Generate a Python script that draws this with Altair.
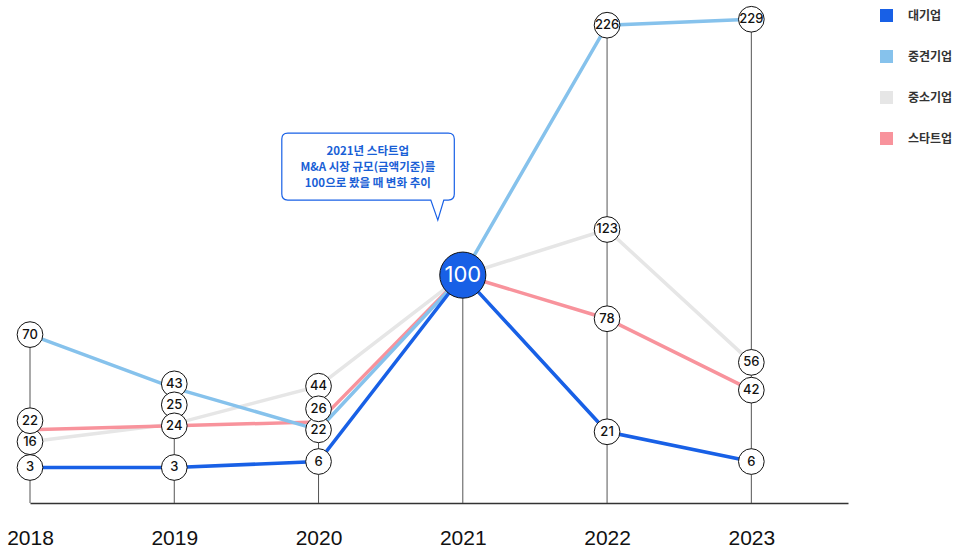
import altair as alt
import pandas as pd

# ---------------- data ----------------
years = [2018, 2019, 2020, 2021, 2022, 2023]
series = ["대기업", "중견기업", "중소기업", "스타트업"]
large = [3, 3, 6, 100, 21, 6]          # 대기업
midsize = [70, 43, 22, 100, 226, 229]  # 중견기업
small = [16, 25, 44, 100, 123, 56]     # 중소기업
startup = [22, 24, 26, 100, 78, 42]    # 스타트업
colors = ["#1860e6", "#86c2ec", "#e6e6e6", "#f8939c"]
base_year = 2021
callout_text = ["2021년 스타트업", "M&A 시장 규모(금액기준)를", "100으로 봤을 때 변화 추이"]

values = dict(zip(series, [large, midsize, small, startup]))

# ---------------- layout constants ----------------
W, H = 818, 503
Y_MIN, Y_MAX = -14.9, 238.7
X_MIN, X_MAX = 2018, 2023.67
px_per_unit = H / (Y_MAX - Y_MIN)
label_gap = 21 / px_per_unit

rows = []
for s in series:
    for yr, v in zip(years, values[s]):
        rows.append({"year": yr, "series": s, "value": v})
df = pd.DataFrame(rows)

# push overlapping value bubbles apart (labels only, lines stay at true value)
df["label"] = df["value"].astype(float)
for yr in years:
    if yr == base_year:
        continue
    sub = df[df.year == yr].sort_values("value")
    prev = None
    for idx, r in sub.iterrows():
        pos = float(r.value) if prev is None else max(float(r.value), prev + label_gap)
        df.loc[idx, "label"] = pos
        prev = pos

rules_df = df.groupby("year", as_index=False)["label"].max()

xscale = alt.Scale(domain=[X_MIN, X_MAX], nice=False, zero=False)
yscale = alt.Scale(domain=[Y_MIN, Y_MAX], nice=False, zero=False)
cscale = alt.Scale(domain=series, range=colors)

x_axis = alt.Axis(
    values=years, format="d", title=None, grid=False, ticks=False, tickSize=0,
    labelFontSize=21, labelFont="Liberation Sans", labelColor="#111",
    labelPadding=24, domainColor="#333", domainWidth=1.5, labelFlush=False,
)
X = alt.X("year:Q", scale=xscale, axis=x_axis)

# a 6px square outlined with a 7px stroke renders as a solid 13px swatch
legend = alt.Legend(
    title=None, orient="none", legendX=850, legendY=9,
    symbolType="square", symbolSize=36, symbolStrokeWidth=7,
    symbolOpacity=1, rowPadding=6, labelOffset=15,
    labelFontSize=12, labelFont="Noto Sans CJK KR",
    labelFontWeight="bold", labelColor="#333",
)

base = alt.Chart(df)

rules = alt.Chart(rules_df).mark_rule(color="#555", strokeWidth=1).encode(
    x=X,
    y=alt.Y("label:Q", scale=yscale, axis=None),
    y2=alt.datum(Y_MIN),
)

line_order = ["중소기업", "스타트업", "중견기업", "대기업"]
lines = []
for s in line_order:
    lines.append(
        base.transform_filter(alt.datum.series == s)
        .mark_line(strokeWidth=3.5, strokeJoin="miter")
        .encode(
            x=X,
            y=alt.Y("value:Q", scale=yscale, axis=None),
            color=alt.Color("series:N", scale=cscale, legend=legend),
        )
    )

big = base.transform_filter(
    (alt.datum.year == base_year) & (alt.datum.series == series[0])
)

bubbles = base.transform_filter(alt.datum.year != base_year).mark_circle(
    size=660, fill="white", stroke="#111", strokeWidth=1, opacity=1
).encode(
    x=X,
    y=alt.Y("label:Q", scale=yscale, axis=None),
)

bubble_text = base.transform_filter(alt.datum.year != base_year).mark_text(
    fontSize=13, font="Inter", fontWeight=500, color="#111", baseline="middle", align="center"
).encode(
    x=X,
    y=alt.Y("label:Q", scale=yscale, axis=None),
    text=alt.Text("value:Q"),
)

big_circle = big.mark_circle(
    size=2124, fill=colors[0], stroke="#111", strokeWidth=1, opacity=1
).encode(
    x=X,
    y=alt.Y("value:Q", scale=yscale, axis=None),
)
big_text = big.mark_text(
    fontSize=22, font="Inter", fontWeight=400, color="white", baseline="middle", align="center"
).encode(
    x=X,
    y=alt.Y("value:Q", scale=yscale, axis=None),
    text=alt.Text("value:Q"),
)

# callout bubble anchored on the 2021 base point
bubble_path = (
    "M -175,-142 H -14.5 Q -8.5,-142 -8.5,-136 V -81 Q -8.5,-75 -14.5,-75 "
    "H -19 L -25,-55 L -32,-75 H -175 Q -181,-75 -181,-81 V -136 Q -181,-142 -175,-142 Z"
)
callout = big.mark_point(
    shape=bubble_path, size=4, filled=True, fill="white", stroke=colors[0],
    strokeWidth=1.2, opacity=1, fillOpacity=1, strokeOpacity=1,
).encode(
    x=X,
    y=alt.Y("value:Q", scale=yscale, axis=None),
)
callout_label = big.mark_text(
    fontSize=11.5, font="Noto Sans CJK KR", fontWeight="bold", color="#1a5fd6",
    align="center", baseline="middle", lineHeight=16, dx=-95, dy=-123,
).encode(
    x=X,
    y=alt.Y("value:Q", scale=yscale, axis=None),
    text=alt.value(callout_text),
)

chart = alt.layer(
    rules, *lines, bubbles, bubble_text, big_circle, big_text, callout, callout_label
).properties(
    width=W, height=H,
    padding={"left": 30, "top": 0, "right": 112, "bottom": 50},
    autosize=alt.AutoSizeParams(type="none"),
).configure(background="white", view=alt.ViewConfig(stroke=None))

chart.save("out.html", embed_options={"renderer": "svg", "actions": False})
